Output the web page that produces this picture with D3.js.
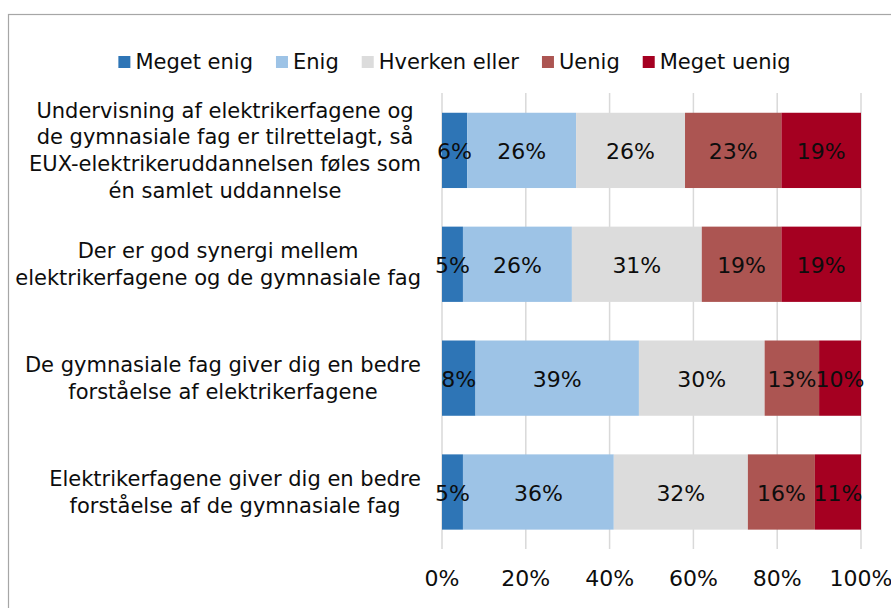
<!DOCTYPE html>
<html>
<head>
<meta charset="utf-8">
<script src="https://cdn.jsdelivr.net/npm/d3@7"></script>
<style>
  body { margin: 0; background: #fff; }
  svg { display: block; font-family: "DejaVu Sans", sans-serif; }
</style>
</head>
<body>
<svg id="chart" width="891" height="608"></svg>
<script>
// data
const categories = [
  "Undervisning af elektrikerfagene og\nde gymnasiale fag er tilrettelagt, så\nEUX-elektrikeruddannelsen føles som\nén samlet uddannelse",
  "Der er god synergi mellem\nelektrikerfagene og de gymnasiale fag",
  "De gymnasiale fag giver dig en bedre\nforståelse af elektrikerfagene",
  "Elektrikerfagene giver dig en bedre\nforståelse af de gymnasiale fag"
];
const seriesNames = ["Meget enig", "Enig", "Hverken eller", "Uenig", "Meget uenig"];
const megetEnig = [6, 5, 8, 5];
const enig = [26, 26, 39, 36];
const hverken = [26, 31, 30, 32];
const uenig = [23, 19, 13, 16];
const megetUenig = [19, 19, 10, 11];
const colors = ["#2E75B6", "#9DC3E6", "#DCDCDC", "#AC5552", "#A50021"];
const xTicks = [0, 20, 40, 60, 80, 100];

const svg = d3.select("#chart");
const fontSize = 21;
const numSize = 22;

// frame
svg.append("rect")
  .attr("x", 8.5).attr("y", 14.5)
  .attr("width", 1000).attr("height", 1000)
  .attr("fill", "none").attr("stroke", "#a6a6a6").attr("stroke-width", 1.2);

const rows = categories.map((c, i) => ({
  cat: c,
  vals: [megetEnig[i], enig[i], hverken[i], uenig[i], megetUenig[i]]
}));

const x = d3.scaleLinear().domain([0, 100]).range([442, 861]);
const y = d3.scaleBand().domain(categories).range([93.4, 549])
  .paddingInner(0.339).paddingOuter(0.17);

// gridlines
svg.append("g").selectAll("line")
  .data(xTicks)
  .join("line")
  .attr("x1", d => x(d)).attr("x2", d => x(d))
  .attr("y1", 93).attr("y2", 549)
  .attr("stroke", "#d9d9d9").attr("stroke-width", 1.5);

// x tick labels
svg.append("g").selectAll("text")
  .data(xTicks)
  .join("text")
  .attr("x", d => x(d)).attr("y", 586)
  .attr("text-anchor", "middle")
  .attr("font-size", numSize)
  .attr("fill", "#0d0d0d")
  .text(d => d + "%");

// stacked bars
const stack = rows.map(r => {
  let acc = 0;
  return r.vals.map((v, k) => {
    const seg = { cat: r.cat, k: k, v: v, x0: acc, x1: acc + v };
    acc += v;
    return seg;
  });
}).flat();

svg.append("g").selectAll("rect")
  .data(stack)
  .join("rect")
  .attr("x", d => x(d.x0))
  .attr("width", d => x(d.x1) - x(d.x0))
  .attr("y", d => y(d.cat))
  .attr("height", y.bandwidth())
  .attr("fill", d => colors[d.k]);

svg.append("g").selectAll("text")
  .data(stack)
  .join("text")
  .attr("x", d => (x(d.x0) + x(d.x1)) / 2)
  .attr("y", d => y(d.cat) + y.bandwidth() / 2)
  .attr("dy", "0.4em")
  .attr("text-anchor", "middle")
  .attr("font-size", numSize)
  .attr("fill", "#0d0d0d")
  .text(d => d.v + "%");

// category labels: block right aligned, lines centred in block
const lh = 26.8;
const labelRight = 421;
categories.forEach(c => {
  const lines = c.split("\n");
  const g = svg.append("g");
  const cy = y(c) + y.bandwidth() / 2;
  const texts = lines.map((ln, j) => g.append("text")
    .attr("y", cy + (j - (lines.length - 1) / 2) * lh)
    .attr("dy", "0.35em")
    .attr("text-anchor", "middle")
    .attr("font-size", fontSize)
    .attr("fill", "#0d0d0d")
    .text(ln));
  const maxW = d3.max(texts, t => t.node().getComputedTextLength());
  texts.forEach(t => t.attr("x", labelRight - maxW / 2));
});

// legend
const legend = svg.append("g");
const gap = 23;
let lx = 0;
seriesNames.forEach((name, k) => {
  legend.append("rect")
    .attr("x", lx).attr("y", 56)
    .attr("width", 12).attr("height", 12)
    .attr("fill", colors[k]);
  const t = legend.append("text")
    .attr("x", lx + 17).attr("y", 62)
    .attr("dy", "0.35em")
    .attr("font-size", fontSize)
    .attr("fill", "#0d0d0d")
    .text(name);
  lx += 17 + t.node().getComputedTextLength() + gap;
});
const legendW = lx - gap;
legend.attr("transform", `translate(${454.5 - legendW / 2},0)`);
</script>
</body>
</html>
